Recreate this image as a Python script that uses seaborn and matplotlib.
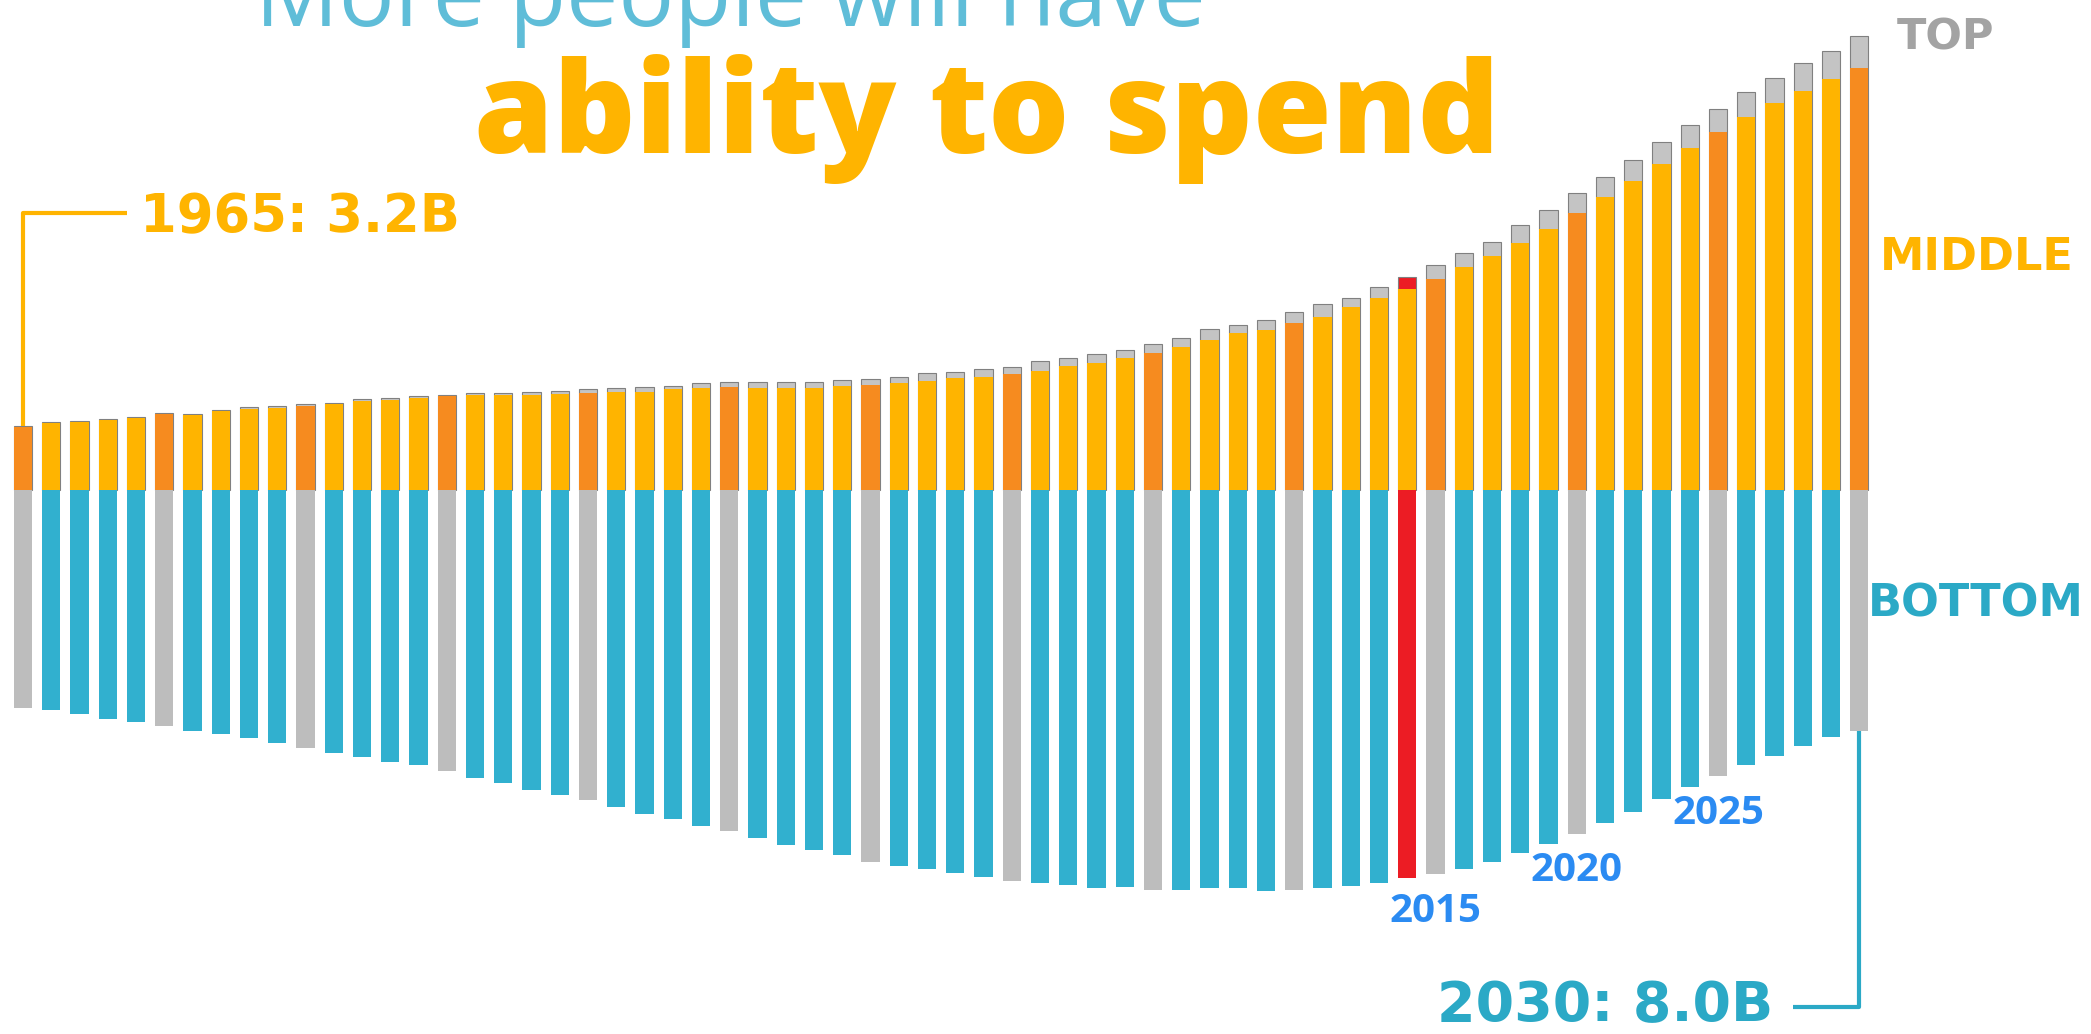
import numpy as np
import pandas as pd
import matplotlib
matplotlib.use("Agg")
import matplotlib.pyplot as plt
import seaborn as sns

# world population by consumer class, billions
years = list(range(1965, 2031))
bottom = [2.49, 2.51, 2.56, 2.62, 2.65, 2.70, 2.75, 2.79, 2.83, 2.89,
          2.95, 3.01, 3.05, 3.11, 3.14, 3.21, 3.29, 3.35, 3.43, 3.49,
          3.54, 3.62, 3.70, 3.76, 3.84, 3.90, 3.98, 4.06, 4.11, 4.17,
          4.25, 4.30, 4.33, 4.38, 4.42, 4.47, 4.49, 4.51, 4.55, 4.54,
          4.57, 4.57, 4.55, 4.55, 4.58, 4.57, 4.55, 4.53, 4.49, 4.43,
          4.39, 4.33, 4.25, 4.15, 4.05, 3.93, 3.81, 3.68, 3.53, 3.39,
          3.27, 3.14, 3.04, 2.93, 2.82, 2.75]
middle = [0.72, 0.77, 0.78, 0.80, 0.82, 0.87, 0.86, 0.90, 0.93, 0.94,
          0.96, 0.98, 1.02, 1.03, 1.05, 1.07, 1.09, 1.09, 1.09, 1.10,
          1.11, 1.12, 1.12, 1.15, 1.17, 1.18, 1.17, 1.17, 1.17, 1.19,
          1.20, 1.22, 1.25, 1.28, 1.29, 1.33, 1.36, 1.42, 1.45, 1.51,
          1.57, 1.63, 1.71, 1.79, 1.83, 1.91, 1.98, 2.09, 2.19, 2.30,
          2.41, 2.55, 2.67, 2.82, 2.98, 3.17, 3.35, 3.53, 3.73, 3.91,
          4.09, 4.26, 4.42, 4.56, 4.70, 4.82]
top = [0.01, 0.01, 0.01, 0.01, 0.01, 0.01, 0.01, 0.01, 0.02, 0.02,
       0.02, 0.02, 0.02, 0.02, 0.02, 0.02, 0.02, 0.02, 0.03, 0.03,
       0.04, 0.05, 0.06, 0.04, 0.05, 0.06, 0.06, 0.07, 0.07, 0.07,
       0.07, 0.07, 0.09, 0.07, 0.09, 0.08, 0.11, 0.09, 0.10, 0.09,
       0.10, 0.11, 0.13, 0.10, 0.11, 0.13, 0.15, 0.11, 0.13, 0.14,
       0.16, 0.16, 0.17, 0.21, 0.22, 0.22, 0.23, 0.24, 0.25, 0.26,
       0.27, 0.29, 0.29, 0.32, 0.32, 0.37]
current_year = 2014
milestones = [2015, 2020, 2025]

BLUE = "#31b0cf"
YELLOW = "#ffb400"
ORANGE = "#f68b1f"
GRAY = "#bdbdbd"
TOPGRAY = "#c4c4c4"
RED = "#ec1c24"
TEAL = "#2ba9c6"
YEARBLUE = "#2b8bf2"

W, H = 2091, 1034
X0, DX = 23, 28.25      # first bar centre and bar spacing, px
Y0, DY = 490, 87.5      # baseline and px per billion


def px_x(x):
    return (x - X0) / DX


def px_y(y):
    return (Y0 - y) / DY


df = pd.DataFrame({"year": years, "bottom": bottom, "middle": middle, "top": top})
df["upper"] = df["middle"] + df["top"]
df["neg"] = -df["bottom"]


def pick(y, normal, fifth, current):
    if y == current_year:
        return current
    if y % 5 == 0:
        return fifth
    return normal


bot_pal = {y: pick(y, BLUE, GRAY, RED) for y in years}
mid_pal = {y: pick(y, YELLOW, ORANGE, YELLOW) for y in years}
top_pal = {y: pick(y, TOPGRAY, TOPGRAY, RED) for y in years}

sns.set_theme(style="white")
fig = plt.figure(figsize=(W / 100, H / 100), dpi=100)
ax = fig.add_axes([0, 0, 1, 1])

kw = dict(data=df, x="year", hue="year", legend=False, width=0.64,
          saturation=1, errorbar=None, ax=ax)
# upper bars get a thin dark outline, like the original
sns.barplot(y="upper", palette=top_pal, linewidth=0.8, edgecolor="#808080", **kw)
sns.barplot(y="middle", palette=mid_pal, linewidth=0, **kw)
sns.barplot(y="neg", palette=bot_pal, linewidth=0, **kw)

ax.set_xlim(px_x(0), px_x(W))
ax.set_ylim(px_y(H), px_y(0))
ax.axis("off")

# connectors for the first and last year
last = len(years) - 1
ax.plot([0, 0, px_x(127)], [df["upper"][0], px_y(213), px_y(213)],
        color=YELLOW, lw=3, solid_capstyle="butt")
ax.plot([last, last, px_x(1793)], [df["neg"][last], px_y(1007), px_y(1007)],
        color=TEAL, lw=3, solid_capstyle="butt")

bold = dict(family="DejaVu Sans", weight="bold")
ax.text(px_x(140), px_y(217), "1965: 3.2B", color=YELLOW, fontsize=38,
        ha="left", va="center", **bold)
ax.text(px_x(1773), px_y(1006), "2030: 8.0B", color=TEAL, fontsize=40,
        ha="right", va="center", **bold)

ax.text(px_x(1897), px_y(37), "TOP", color="#a3a3a3", fontsize=31,
        ha="left", va="center", **bold)
ax.text(px_x(1880), px_y(258), "MIDDLE", color=YELLOW, fontsize=32,
        ha="left", va="center", **bold)
ax.text(px_x(1868), px_y(604), "BOTTOM", color=TEAL, fontsize=32,
        ha="left", va="center", **bold)

for yr in milestones:
    i = years.index(yr)
    ax.text(i, df["neg"][i] - 0.2, str(yr), color=YEARBLUE, fontsize=29,
            ha="center", va="top", family="Open Sans", weight="bold")

fig.text(730 / W, 1 - 26 / H, "More people will have", color="#5fbdd8",
         fontsize=67, ha="center", va="baseline", family="Open Sans")
fig.text(987 / W, 1 - 153 / H, "ability to spend", color=YELLOW,
         fontsize=92, ha="center", va="baseline", family="Open Sans",
         weight=800)

fig.savefig("out.png", dpi=100)
